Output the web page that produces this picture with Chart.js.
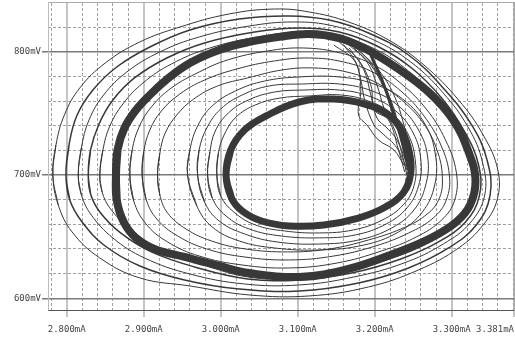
<!DOCTYPE html>
<html lang="en">
<head>
<meta charset="UTF-8">
<title>Phase plot</title>
<script src="https://cdn.jsdelivr.net/npm/chart.js"></script>
<style>
    html, body { margin: 0; padding: 0; background: #fff; }
    canvas { display: block; }
</style>
</head>
<body>
<canvas id="plot" width="515" height="341"></canvas>
<script>
// axis range (mA across, mV up)
const xMin = 2.7757, xMax = 3.381;
const yMin = 590.5, yMax = 840.3;
const xTickValues = [2.8, 2.9, 3.0, 3.1, 3.2, 3.3, 3.381];
const xTickLabels = ['2.800mA', '2.900mA', '3.000mA', '3.100mA', '3.200mA', '3.300mA', '3.381mA'];
const yTickValues = [600, 700, 800];
const yTickLabels = ['600mV', '700mV', '800mV'];

// trajectory as [mA, mV]
const outerBand = [[2.864,700],[2.866,720.3],[2.875,738.1],[2.890,752.7],[2.908,764.9],[2.929,777.0],[2.960,790.8],[2.998,801.4],[3.037,807.9],[3.076,812.0],[3.115,814.4],[3.154,811.1],[3.186,803.0],[3.227,787.6],[3.270,767.3],[3.302,744.6],[3.322,718.7],[3.331,695.9],[3.324,675.7],[3.306,661.9],[3.273,648.9],[3.227,636.7],[3.166,623.8],[3.102,617.3],[3.037,620.5],[2.998,626.2],[2.953,633.5],[2.914,640.0],[2.890,648.9],[2.874,661.9],[2.865,679.7]];
const innerBand = [[3.007,700],[3.013,720.3],[3.031,736.5],[3.059,747.9],[3.102,759.2],[3.147,761.6],[3.186,757.6],[3.218,748.7],[3.236,734.9],[3.245,718.7],[3.247,702.4],[3.238,686.2],[3.214,674.0],[3.179,665.1],[3.134,659.5],[3.089,658.7],[3.053,662.7],[3.028,670.8],[3.014,681.3]];

const outer1 = [[2.782,700],[2.786,724.3],[2.797,748.7],[2.817,770.6],[2.850,790.8],[2.895,807.9],[2.947,820.0],[3.011,830.6],[3.070,834.6],[3.115,832.2],[3.166,824.1],[3.218,809.5],[3.264,789.2],[3.309,760.8],[3.341,732.4],[3.360,704.1],[3.359,679.7],[3.341,659.5],[3.309,640.8],[3.257,623.0],[3.192,609.2],[3.115,601.9],[3.037,602.7],[2.960,610.0],[2.895,616.5],[2.843,632.7],[2.807,653.8],[2.789,675.7]];
const outer2 = [[2.799,700],[2.803,724.3],[2.813,747.9],[2.834,768.9],[2.865,787.6],[2.908,803.8],[2.960,817.6],[3.024,826.5],[3.089,829.0],[3.141,825.7],[3.192,815.2],[3.244,797.3],[3.289,770.6],[3.326,740.6],[3.346,712.2],[3.350,683.8],[3.332,659.5],[3.296,640.8],[3.244,624.6],[3.179,612.4],[3.102,605.9],[3.024,607.5],[2.953,614.9],[2.895,626.2],[2.850,642.4],[2.820,661.9],[2.804,679.7]];
const outer3 = [[2.815,700],[2.819,721.9],[2.829,744.6],[2.848,764.9],[2.878,783.5],[2.921,799.8],[2.972,811.9],[3.037,820.8],[3.095,824.1],[3.147,820.8],[3.199,809.5],[3.247,791.6],[3.289,766.5],[3.322,738.1],[3.340,710.5],[3.343,683.8],[3.324,661.1],[3.289,644.0],[3.238,628.6],[3.173,617.3],[3.102,610.8],[3.031,611.6],[2.960,619.7],[2.901,632.7],[2.860,648.9],[2.831,668.4],[2.819,684.0]];
const outer4 = [[2.828,700],[2.831,720.3],[2.842,741.4],[2.860,760.8],[2.888,778.7],[2.930,794.9],[2.979,807.1],[3.044,816.0],[3.102,819.2],[3.154,816.0],[3.203,804.6],[3.248,786.8],[3.287,762.4],[3.317,734.9],[3.335,708.1],[3.336,683.0],[3.318,661.9],[3.283,645.7],[3.234,631.9],[3.170,620.5],[3.102,614.9],[3.035,615.7],[2.966,625.4],[2.910,637.6],[2.870,653.0],[2.843,670.0],[2.831,684.6]];
const outer5 = [[2.843,700],[2.847,720.3],[2.856,739.7],[2.873,757.6],[2.899,774.6],[2.936,790.0],[2.986,803.0],[3.048,811.9],[3.106,816.0],[3.156,811.9],[3.203,801.4],[3.244,784.3],[3.283,760.8],[3.312,733.2],[3.330,707.3],[3.331,683.0],[3.313,663.5],[3.279,648.1],[3.231,634.3],[3.167,623.0],[3.102,616.5],[3.035,617.3],[2.968,629.5],[2.917,641.6],[2.881,657.0],[2.856,673.3],[2.846,686.2]];
const mid1 = [[2.882,700],[2.885,720.3],[2.894,738.9],[2.910,755.2],[2.936,770.6],[2.972,783.5],[3.009,793.3],[3.061,800.6],[3.108,803.0],[3.156,798.9],[3.199,789.2],[3.235,773.8],[3.268,752.7],[3.292,728.4],[3.306,702.4],[3.304,679.7],[3.287,663.5],[3.254,649.7],[3.209,638.4],[3.151,628.6],[3.089,624.6],[3.028,627.0],[2.972,634.3],[2.931,645.7],[2.903,660.3],[2.887,679.0]];
const mid2 = [[2.898,700],[2.900,718.7],[2.908,736.5],[2.923,751.9],[2.947,765.7],[2.979,777.0],[3.021,786.0],[3.070,792.5],[3.115,794.9],[3.160,791.6],[3.200,782.7],[3.234,768.1],[3.264,747.9],[3.286,724.3],[3.297,700],[3.293,679.7],[3.276,665.1],[3.244,652.9],[3.201,642.4],[3.147,634.3],[3.089,631.1],[3.031,633.5],[2.982,640.0],[2.944,650.6],[2.917,664.3],[2.903,680.5]];
const mid3 = [[2.918,700],[2.921,717.8],[2.928,734.1],[2.943,748.7],[2.965,761.6],[2.996,772.2],[3.035,778.7],[3.080,785.2],[3.121,786.8],[3.164,783.5],[3.203,774.6],[3.235,760.8],[3.263,742.2],[3.281,720.3],[3.288,697.6],[3.283,679.7],[3.265,666.7],[3.234,656.2],[3.192,647.3],[3.141,640.0],[3.087,637.6],[3.032,640.0],[2.988,646.5],[2.955,656.2],[2.931,669.2],[2.921,683.8]];
const ring1 = [[2.957,700],[2.960,720.3],[2.970,739.7],[2.989,756.0],[3.019,768.1],[3.057,776.2],[3.102,779.5],[3.154,779.5],[3.199,773.8],[3.238,760.8],[3.266,740.6],[3.279,716.2],[3.278,691.9],[3.262,670.0],[3.231,653.8],[3.186,643.2],[3.128,639.2],[3.070,640.8],[3.024,646.5],[2.989,657.8],[2.969,674.9]];
const ring2 = [[2.970,700],[2.972,720.3],[2.982,738.1],[3.000,753.5],[3.028,764.9],[3.063,772.2],[3.106,773.8],[3.154,773.8],[3.197,768.1],[3.231,756.0],[3.257,736.5],[3.269,713.8],[3.266,691.1],[3.251,671.6],[3.222,657.0],[3.179,647.3],[3.128,644.0],[3.073,645.7],[3.031,652.2],[2.998,662.7],[2.979,678.1]];
const ring3 = [[2.983,700],[2.986,718.7],[2.993,735.7],[3.010,750.3],[3.036,760.8],[3.070,767.3],[3.108,768.9],[3.154,768.9],[3.192,764.1],[3.226,752.7],[3.250,734.1],[3.260,712.2],[3.257,691.1],[3.242,673.3],[3.215,660.3],[3.175,651.4],[3.128,649.0],[3.079,650.5],[3.037,656.2],[3.007,666.7],[2.989,681.3]];
const ring4 = [[2.995,700],[2.997,717.8],[3.005,733.2],[3.020,747.0],[3.045,756.8],[3.077,762.4],[3.115,764.1],[3.156,764.9],[3.192,760.0],[3.223,749.5],[3.244,732.4],[3.253,710.5],[3.251,691.1],[3.237,675.7],[3.210,663.5],[3.172,655.4],[3.128,653.0],[3.083,654.6],[3.045,659.5],[3.017,670.0],[3.000,683.0]];

// fold where the orbit drops from the big lobe into the small one
const fold1 = [[3.160,809.5],[3.186,797.3],[3.205,781.1],[3.221,760.8],[3.231,740.6],[3.238,720.3],[3.244,702.4]];
const fold2 = [[3.167,805.4],[3.190,791.6],[3.203,773.0],[3.213,752.7],[3.226,736.5],[3.236,716.2],[3.242,700]];
const fold3 = [[3.154,807.9],[3.179,793.3],[3.195,773.0],[3.200,752.7],[3.218,744.6],[3.231,720.3],[3.239,702.4]];
const fold4 = [[3.173,803.0],[3.195,789.2],[3.212,770.6],[3.225,751.1],[3.234,728.4],[3.244,708.1]];
const fold5 = [[3.147,805.4],[3.173,793.3],[3.182,777.0],[3.187,760.8],[3.199,740.6],[3.208,734.9],[3.229,721.9],[3.242,704.1]];
const fold6 = [[3.179,801.4],[3.205,785.2],[3.225,764.9],[3.238,740.6],[3.247,716.2]];
const fold7 = [[3.160,805.4],[3.177,789.2],[3.182,768.9],[3.179,748.7],[3.190,740.6],[3.205,728.4],[3.225,720.3],[3.238,708.1]];
const fold8 = [[3.167,803.0],[3.186,785.2],[3.195,764.9],[3.203,746.2],[3.216,738.1],[3.229,728.4],[3.240,712.2]];
const foldCore = [[3.195,797.3],[3.212,773.0],[3.225,748.7],[3.235,728.4],[3.244,704.1]];

const ink = '#383838';

function trace(pts, width, closed) {
    let d = pts.map(p => ({ x: p[0], y: p[1] }));
    // wrap round the seam so closed loops stay smooth there
    if (closed) d = [d[d.length - 1]].concat(d, [d[0], d[1]]);
    return {
        data: d,
        showLine: true,
        borderColor: ink,
        borderWidth: width,
        pointRadius: 0,
        tension: 0.4,
        fill: false
    };
}

// minor (dashed) grid positions
const xMinor = [];
for (let v = 2.78; v < 3.385; v += 0.02) {
    const r = Math.round(v * 100) / 100;
    if (Math.round(r * 100) % 10 !== 0) xMinor.push(r);
}
const yMinor = [];
for (let v = 620; v <= 840; v += 20) {
    if (v % 100 !== 0) yMinor.push(v);
}

const labelFont = { family: 'DejaVu Sans Mono', size: 9 };
const noPad = s => { s.paddingLeft = 0; s.paddingRight = 0; s.paddingTop = 0; s.paddingBottom = 0; };

const ctx = document.getElementById('plot').getContext('2d');
new Chart(ctx, {
    type: 'scatter',
    data: {
        datasets: [
            trace(outerBand, 8, true),
            trace(innerBand, 7, true),
            trace(outer1, 1, true),
            trace(outer2, 1.5, true),
            trace(outer3, 1, true),
            trace(outer4, 1.5, true),
            trace(outer5, 1, true),
            trace(mid1, 1, true),
            trace(mid2, 1, true),
            trace(mid3, 1, true),
            trace(ring1, 1, true),
            trace(ring2, 1, true),
            trace(ring3, 1, true),
            trace(ring4, 1, true),
            trace(fold1, 1, false),
            trace(fold2, 1, false),
            trace(fold3, 1, false),
            trace(fold4, 1, false),
            trace(fold5, 1, false),
            trace(fold6, 1, false),
            trace(fold7, 1, false),
            trace(fold8, 1, false),
            trace(foldCore, 3, false)
        ]
    },
    options: {
        responsive: false,
        animation: false,
        devicePixelRatio: 1,
        layout: { padding: { top: 2, right: 1, left: 0, bottom: 0 } },
        plugins: { legend: { display: false }, tooltip: { enabled: false } },
        scales: {
            x: {
                type: 'linear', position: 'bottom', min: xMin, max: xMax,
                afterBuildTicks: s => { s.ticks = xTickValues.map(v => ({ value: v })); },
                afterFit: s => { s.height = 31; noPad(s); },
                grid: { color: '#c4c4c4', lineWidth: 2, tickLength: 7 },
                border: { display: true, color: '#555', width: 1 },
                ticks: {
                    autoSkip: false, maxRotation: 0, minRotation: 0, padding: 7,
                    color: '#444', font: labelFont,
                    // last label sits flush with the right edge
                    callback: (v, i) => i === xTickLabels.length - 1 ? xTickLabels[i] + '       ' : xTickLabels[i]
                }
            },
            xMinor: {
                type: 'linear', position: 'top', min: xMin, max: xMax,
                afterBuildTicks: s => { s.ticks = xMinor.map(v => ({ value: v })); },
                afterFit: s => { s.height = 0; noPad(s); },
                grid: { color: '#a0a0a0', lineWidth: 1, drawTicks: false },
                border: { display: true, color: '#aaa', width: 1, dash: [3, 2] },
                ticks: { display: false }
            },
            y: {
                type: 'linear', position: 'left', min: yMin, max: yMax,
                afterBuildTicks: s => { s.ticks = yTickValues.map(v => ({ value: v })); },
                afterFit: s => { s.width = 48; noPad(s); },
                grid: { color: '#7a7a7a', lineWidth: 1.5, tickLength: 6 },
                border: { display: true, color: '#bbb', width: 1 },
                ticks: {
                    padding: 1, color: '#444', font: labelFont,
                    callback: (v, i) => yTickLabels[i]
                }
            },
            yMinor: {
                type: 'linear', position: 'right', min: yMin, max: yMax,
                afterBuildTicks: s => { s.ticks = yMinor.map(v => ({ value: v })); },
                afterFit: s => { s.width = 0; noPad(s); },
                grid: { color: '#a0a0a0', lineWidth: 1, drawTicks: false },
                border: { display: true, color: '#aaa', width: 1, dash: [3, 2] },
                ticks: { display: false }
            }
        }
    }
});
</script>
</body>
</html>
